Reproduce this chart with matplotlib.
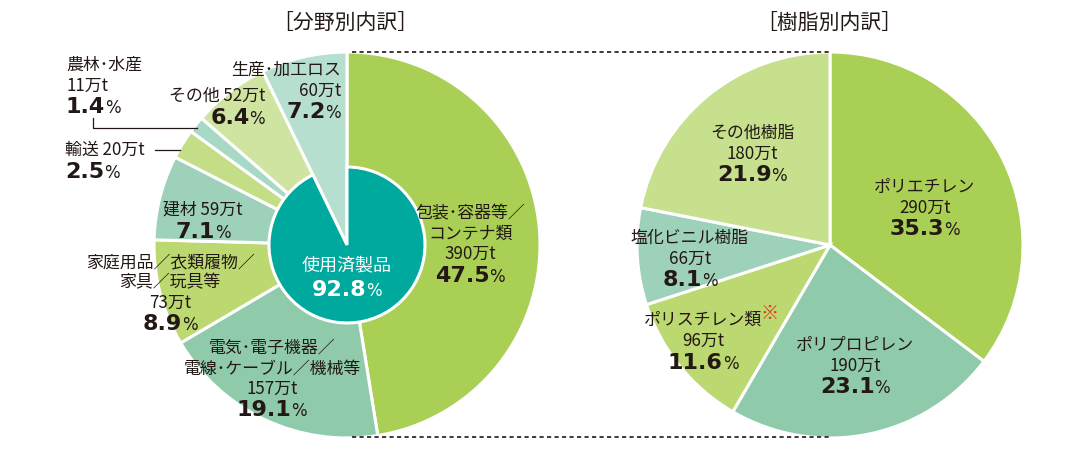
import matplotlib
matplotlib.use('Agg')
import matplotlib.pyplot as plt
from matplotlib.patches import Wedge
from matplotlib.offsetbox import TextArea, HPacker, AnnotationBbox

plt.rcParams['font.family'] = ['Noto Sans CJK JP', 'DejaVu Sans']

# 分野別内訳 (left pie, clockwise from top)
sector_names = ['包装･容器等／\nコンテナ類', '電気･電子機器／\n電線･ケーブル／機械等',
                '家庭用品／衣類履物／\n家具／玩具等', '建材', '輸送', '農林･水産', 'その他', '生産･加工ロス']
sector_tonnes = [390, 157, 73, 59, 20, 11, 52, 60]
sector_pct = [47.5, 19.1, 8.9, 7.1, 2.5, 1.4, 6.4, 7.2]
used_label = '使用済製品'
used_pct = 92.8

# 樹脂別内訳 (right pie, clockwise from top)
resin_names = ['ポリエチレン', 'ポリプロピレン', 'ポリスチレン類', '塩化ビニル樹脂', 'その他樹脂']
resin_tonnes = [290, 190, 96, 66, 180]
resin_pct = [35.3, 23.1, 11.6, 8.1, 21.9]

W, H = 1080, 459
TXT = '#231815'
sector_colors = ['#a9cf54', '#8fcbaa', '#bcd870', '#9dd1b9', '#c3de86', '#a8d8c6', '#cfe4a0', '#b6dfd0']
resin_colors = ['#a9cf54', '#8fcbaa', '#bcd870', '#9dd1b9', '#c6e08e']
TEAL = '#00a99d'

fig = plt.figure(figsize=(10.8, 4.59), dpi=100)
ax = fig.add_axes([0, 0, 1, 1])

R = 193
c1 = (347, H - 245)
c2 = (830, H - 245)
wp = dict(edgecolor='white', linewidth=2.2)
ax.pie(sector_pct, colors=sector_colors, startangle=90, counterclock=False,
       radius=R, center=c1, wedgeprops=wp, frame=True)
ax.pie(resin_pct, colors=resin_colors, startangle=90, counterclock=False,
       radius=R, center=c2, wedgeprops=wp, frame=True)

# inner disc: everything except the last (loss) slice
loss_angle = 360 * sector_pct[-1] / sum(sector_pct)
ax.add_patch(Wedge(c1, 78, 90 + loss_angle, 450, facecolor=TEAL,
                   edgecolor='white', linewidth=2.2, zorder=3))

ax.set_xlim(0, W)
ax.set_ylim(0, H)
ax.set_axis_off()


def txt(x, y, s, ha='center', size=12.2, color=TXT, **kw):
    return ax.text(x, H - y, s, ha=ha, va='center', fontsize=size, color=color, zorder=5, **kw)


def pct(x, y, v, ha='center', color=TXT):
    num = TextArea(f'{v:.1f}', textprops=dict(fontsize=16, fontweight='bold',
                                               family='DejaVu Sans', color=color))
    sign = TextArea('%', textprops=dict(fontsize=12, color=color, family='DejaVu Sans'))
    box = HPacker(children=[num, sign], align='baseline', pad=0, sep=0)
    bx = {'center': 0.5, 'left': 0.0, 'right': 1.0}[ha]
    ab = AnnotationBbox(box, (x, H - y), box_alignment=(bx, 0.5), frameon=False,
                        pad=0, zorder=6)
    ax.add_artist(ab)


def block(x, y, lines, v, ha='center', lh=20.5):
    for i, s in enumerate(lines):
        txt(x, y + i * lh, s, ha=ha)
    pct(x, y + len(lines) * lh + 1, v, ha=ha)


# titles
txt(345, 23, '［分野別内訳］', size=15)
txt(829, 23, '［樹脂別内訳］', size=15)

# left labels
n = sector_names
t = sector_tonnes
p = sector_pct
block(470, 213, n[0].split('\n') + [f'{t[0]}万t'], p[0])
block(272, 348, n[1].split('\n') + [f'{t[1]}万t'], p[1])
block(170, 262, n[2].split('\n') + [f'{t[2]}万t'], p[2])
block(203, 210, [f'{n[3]} {t[3]}万t'], p[3])
block(65, 150, [f'{n[4]} {t[4]}万t'], p[4], ha='left')
block(66, 65, [n[5], f'{t[5]}万t'], p[5], ha='left')
block(265, 96, [f'{n[6]} {t[6]}万t'], p[6], ha='right')
block(341, 70, [n[7], f'{t[7]}万t'], p[7], ha='right')

# leader lines
ax.plot([155, 180], [H - 150, H - 150], color=TXT, lw=0.9, zorder=5)
ax.plot([93, 93, 197], [H - 118, H - 128, H - 128], color=TXT, lw=0.9, zorder=5)

# center label
txt(347, 265, used_label, size=13, color='white')
pct(347, 290, used_pct, color='white')

# right labels
block(925, 187, [resin_names[0], f'{resin_tonnes[0]}万t'], resin_pct[0])
block(855, 345, [resin_names[1], f'{resin_tonnes[1]}万t'], resin_pct[1])
ps = txt(703, 320, resin_names[2])
ax.annotate('※', xy=(1, 1), xycoords=ps, xytext=(-1, 5), textcoords='offset points',
            ha='left', va='top', fontsize=13, fontweight='bold', color='#e0321e', zorder=6)
txt(703, 341, f'{resin_tonnes[2]}万t')
pct(703, 363, resin_pct[2])
block(690, 238, [resin_names[3], f'{resin_tonnes[3]}万t'], resin_pct[3])
block(752, 133, [resin_names[4], f'{resin_tonnes[4]}万t'], resin_pct[4])

# dashed connectors
for y in (52, 437):
    ax.plot([352, 830], [H - y, H - y], color=TXT, lw=1.2, linestyle=(0, (2.5, 2)), zorder=1)

fig.savefig('out.png', dpi=100)
